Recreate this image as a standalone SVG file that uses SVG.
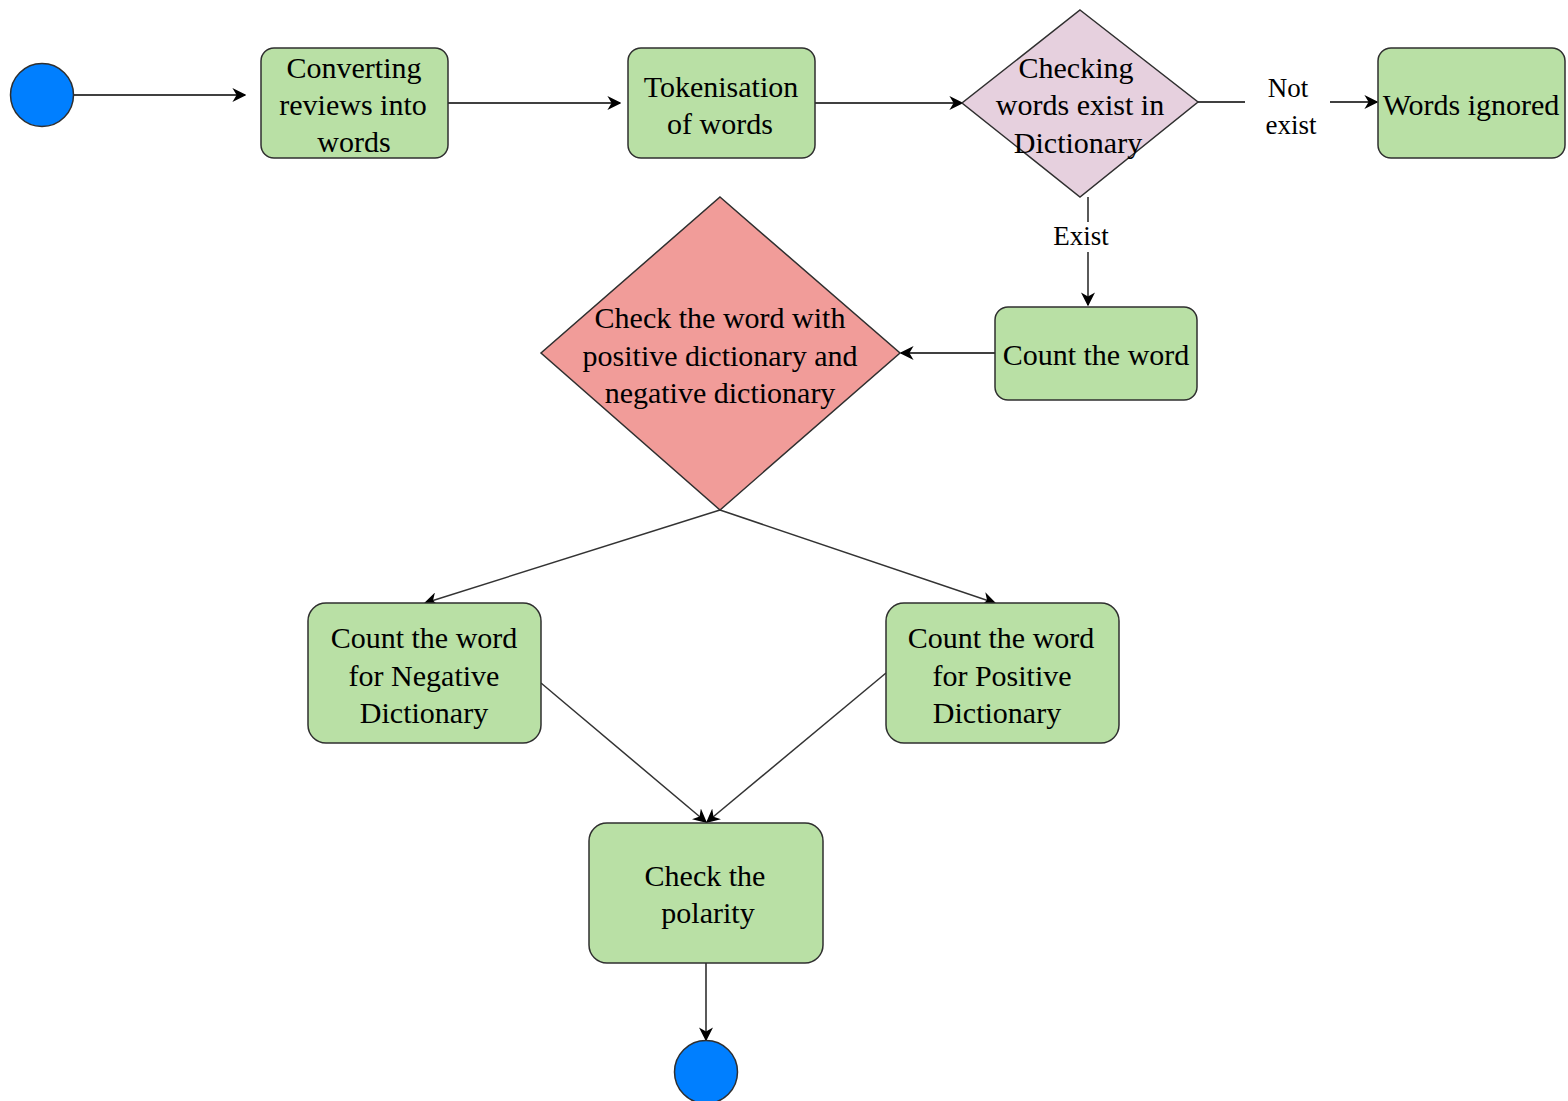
<svg xmlns="http://www.w3.org/2000/svg" width="1568" height="1101" viewBox="0 0 1568 1101">
<defs>
<style>
.box{fill:#b9e0a5;stroke:#2f2f2f;stroke-width:1.5}
.dec1{fill:#e6d0de;stroke:#2f2f2f;stroke-width:1.5}
.dec2{fill:#f19c99;stroke:#2f2f2f;stroke-width:1.5}
.term{fill:#007fff;stroke:#2f2f2f;stroke-width:1.5}
.t{font-size:30px;fill:#000;text-anchor:middle}
.lbl{font-size:27px;fill:#000;text-anchor:middle}
.c{fill:none;stroke:#000;stroke-width:1.3}
.cg{fill:none;stroke:#333;stroke-width:1.5}
</style>
<marker id="ah2" viewBox="0 0 10 10" refX="9" refY="5" markerWidth="14" markerHeight="14" markerUnits="userSpaceOnUse" orient="auto">
<path d="M0,0 L10,5 L0,10 L3,5 z" fill="#000"/>
</marker>
</defs>
<rect width="1568" height="1101" fill="#fff"/>
<g font-family="'Liberation Serif', 'DejaVu Serif', serif">
<g id="connectors">
<line class="c" x1="73" y1="95" x2="245" y2="95" marker-end="url(#ah2)"/>
<line class="c" x1="448" y1="103" x2="620" y2="103" marker-end="url(#ah2)"/>
<line class="c" x1="815" y1="103" x2="962" y2="103" marker-end="url(#ah2)"/>
<line class="c" x1="1198" y1="102" x2="1245" y2="102"/>
<line class="c" x1="1330" y1="102" x2="1377" y2="102" marker-end="url(#ah2)"/>
<line class="c" x1="1088" y1="197" x2="1088" y2="222"/>
<line class="c" x1="1088" y1="252" x2="1088" y2="305" marker-end="url(#ah2)"/>
<line class="c" x1="995" y1="353" x2="901" y2="353" marker-end="url(#ah2)"/>
<line class="cg" x1="720" y1="510" x2="425" y2="603" marker-end="url(#ah2)"/>
<line class="cg" x1="720" y1="510" x2="995" y2="603" marker-end="url(#ah2)"/>
<line class="cg" x1="541" y1="683" x2="706" y2="822" marker-end="url(#ah2)"/>
<line class="cg" x1="886" y1="673" x2="707" y2="822" marker-end="url(#ah2)"/>
<line class="c" x1="706" y1="963" x2="706" y2="1040" marker-end="url(#ah2)"/>
<text class="lbl" x="1288" y="97">Not</text>
<text class="lbl" x="1291" y="134">exist</text>
<text class="lbl" x="1081" y="245">Exist</text>
</g>
<g id="start"><circle class="term" cx="42" cy="95" r="31.5"/></g>
<g id="convert">
<rect class="box" x="261" y="48" width="187" height="110" rx="13"/>
<text class="t" x="354" y="78">Converting</text>
<text class="t" x="353" y="115">reviews into</text>
<text class="t" x="354" y="152">words</text>
</g>
<g id="tokenise">
<rect class="box" x="628" y="48" width="187" height="110" rx="13"/>
<text class="t" x="721" y="97">Tokenisation</text>
<text class="t" x="720" y="134">of words</text>
</g>
<g id="check-exist">
<polygon class="dec1" points="1080,10 1198,102 1080,197 962,103"/>
<text class="t" x="1076" y="78">Checking</text>
<text class="t" x="1080" y="115">words exist in</text>
<text class="t" x="1078" y="153">Dictionary</text>
</g>
<g id="ignored">
<rect class="box" x="1378" y="48" width="187" height="110" rx="13"/>
<text class="t" x="1471" y="115">Words ignored</text>
</g>
<g id="count">
<rect class="box" x="995" y="307" width="202" height="93" rx="13"/>
<text class="t" x="1096" y="365">Count the word</text>
</g>
<g id="check-dict">
<polygon class="dec2" points="720,197 900,353 720,510 541,353"/>
<text class="t" x="720" y="328">Check the word with</text>
<text class="t" x="720" y="366">positive dictionary and</text>
<text class="t" x="720" y="403">negative dictionary</text>
</g>
<g id="count-neg">
<rect class="box" x="308" y="603" width="233" height="140" rx="18"/>
<text class="t" x="424" y="648">Count the word</text>
<text class="t" x="424" y="686">for Negative</text>
<text class="t" x="424" y="723">Dictionary</text>
</g>
<g id="count-pos">
<rect class="box" x="886" y="603" width="233" height="140" rx="18"/>
<text class="t" x="1001" y="648">Count the word</text>
<text class="t" x="1002" y="686">for Positive</text>
<text class="t" x="997" y="723">Dictionary</text>
</g>
<g id="polarity">
<rect class="box" x="589" y="823" width="234" height="140" rx="18"/>
<text class="t" x="705" y="886">Check the</text>
<text class="t" x="708" y="923">polarity</text>
</g>
<g id="end"><circle class="term" cx="706" cy="1072" r="31.5"/></g>
</g>
</svg>
